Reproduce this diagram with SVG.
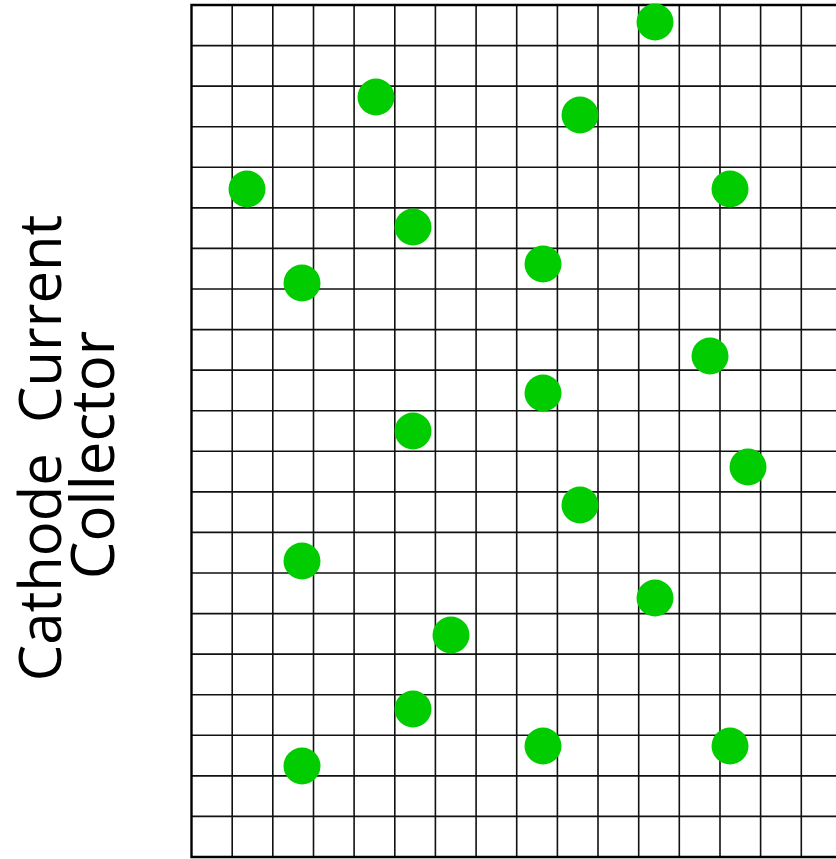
<svg xmlns="http://www.w3.org/2000/svg" width="836" height="859" viewBox="0 0 836 859">
<style>
.g{stroke:#111;stroke-width:1.6;fill:none}
.b{stroke:#000;stroke-width:2.4;fill:none}
.d{fill:#00cc00}
.t{font-family:"Open Sans","Noto Sans",sans-serif;font-size:58px;fill:#000;text-anchor:middle}
</style>
<rect width="836" height="859" fill="#fff"/>
<g id="grid">
<path class="g" d="M232.2 5V857M272.8 5V857M313.5 5V857M354.1 5V857M394.8 5V857M435.4 5V857M476.1 5V857M516.7 5V857M557.4 5V857M598 5V857M638.7 5V857M679.3 5V857M720 5V857M760.6 5V857M801.3 5V857"/>
<path class="g" d="M192 45.6H836M192 86.1H836M192 126.7H836M192 167.3H836M192 207.9H836M192 248.4H836M192 289H836M192 329.6H836M192 370.1H836M192 410.7H836M192 451.3H836M192 491.9H836M192 532.4H836M192 573H836M192 613.6H836M192 654.1H836M192 694.7H836M192 735.3H836M192 775.9H836M192 816.4H836"/>
<path class="b" d="M836 5H191.5V857H836"/>
</g>
<g id="particles">
<circle class="d" cx="655" cy="22" r="18.5"/>
<circle class="d" cx="376" cy="97" r="18.5"/>
<circle class="d" cx="580" cy="115" r="18.5"/>
<circle class="d" cx="247" cy="189" r="18.5"/>
<circle class="d" cx="730" cy="189" r="18.5"/>
<circle class="d" cx="413" cy="227" r="18.5"/>
<circle class="d" cx="543" cy="264" r="18.5"/>
<circle class="d" cx="302" cy="283" r="18.5"/>
<circle class="d" cx="710" cy="356" r="18.5"/>
<circle class="d" cx="543" cy="393" r="18.5"/>
<circle class="d" cx="413" cy="431" r="18.5"/>
<circle class="d" cx="748" cy="467" r="18.5"/>
<circle class="d" cx="580" cy="505" r="18.5"/>
<circle class="d" cx="302" cy="561" r="18.5"/>
<circle class="d" cx="655" cy="598" r="18.5"/>
<circle class="d" cx="451" cy="635" r="18.5"/>
<circle class="d" cx="413" cy="709" r="18.5"/>
<circle class="d" cx="543" cy="746" r="18.5"/>
<circle class="d" cx="730" cy="746" r="18.5"/>
<circle class="d" cx="302" cy="766" r="18.5"/>
</g>
<g id="label" transform="rotate(-90)">
<text class="t" x="-448" y="61" xml:space="preserve">Cathode  Current</text>
<text class="t" x="-455" y="114" style="font-size:60px">Collector</text>
</g>
</svg>
